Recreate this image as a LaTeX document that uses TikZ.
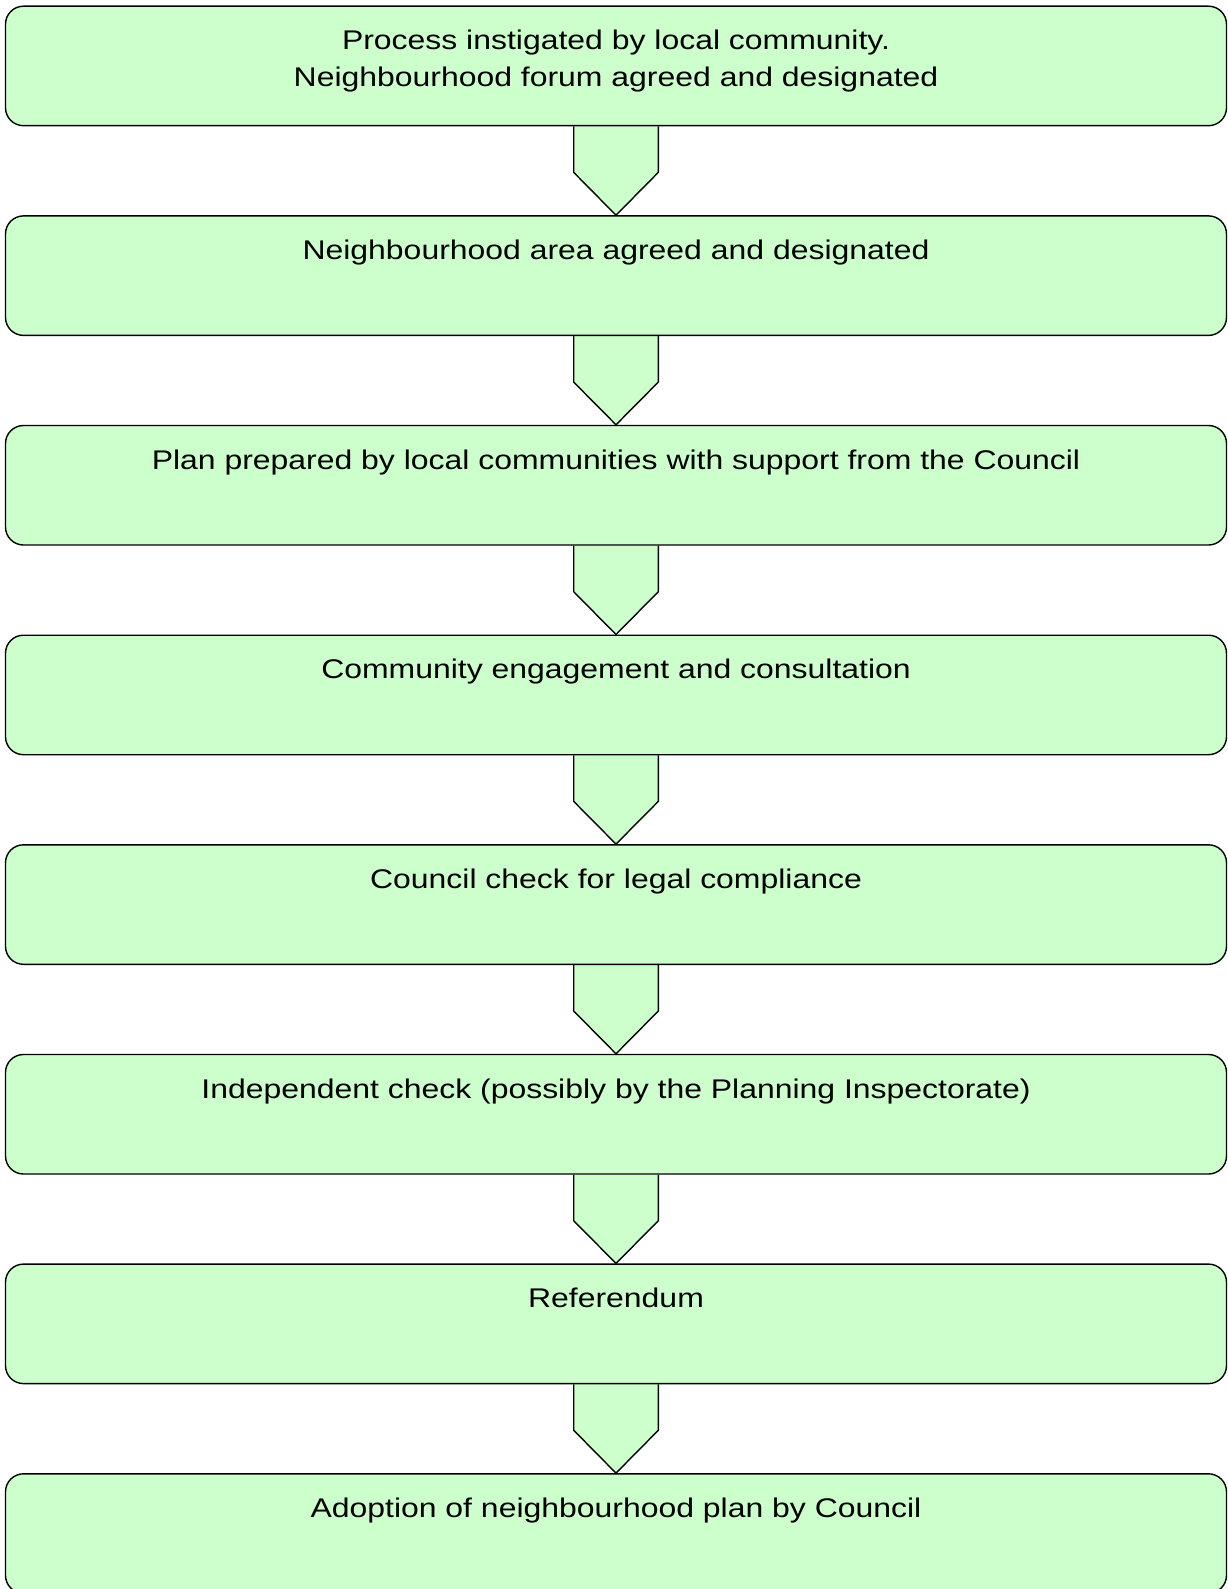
\documentclass[tikz,border=0pt]{standalone}
\usepackage{fontspec}
\newfontfamily\boxfont[FakeStretch=1.183]{Liberation Sans}
\usetikzlibrary{calc,backgrounds}
\definecolor{boxgreen}{HTML}{CCFFCC}
\begin{document}
\begin{tikzpicture}[x=1pt,y=-1pt,
  stagebox/.style={draw=black, line width=1.4pt, fill=boxgreen, rounded corners=18pt,
    minimum width=1221pt, inner sep=0pt, anchor=north,
    text height=43.5pt, text depth=76pt,
    font=\boxfont\fontsize{27}{36.7}\selectfont},
  downarrow/.style={draw=black, line width=1.4pt, fill=boxgreen, line join=miter}]
\useasboundingbox (0,0) rectangle (1227,1589);
\node[stagebox] (b1) at (616,5.5) {\begin{tabular}[t]{@{}c@{}}Process instigated by local community.\\Neighbourhood forum agreed and designated\end{tabular}};
\node[stagebox] (b2) at (616,215.2) {Neighbourhood area agreed and designated};
\node[stagebox] (b3) at (616,424.8) {Plan prepared by local communities with support from the Council};
\node[stagebox] (b4) at (616,634.5) {Community engagement and consultation};
\node[stagebox] (b5) at (616,844.1) {Council check for legal compliance};
\node[stagebox] (b6) at (616,1053.8) {Independent check (possibly by the Planning Inspectorate)};
\node[stagebox] (b7) at (616,1263.4) {Referendum};
\node[stagebox] (b8) at (616,1473.1) {Adoption of neighbourhood plan by Council};
\begin{scope}[on background layer]
\foreach \a/\b in {b1/b2,b2/b3,b3/b4,b4/b5,b5/b6,b6/b7,b7/b8}{
  \draw[downarrow] ($(\a.south)+(-42.3,0)$) -- ($(\a.south)+(-42.3,46)$) -- (\b.north)
     -- ($(\a.south)+(42.3,46)$) -- ($(\a.south)+(42.3,0)$);
}
\end{scope}
\end{tikzpicture}
\end{document}
